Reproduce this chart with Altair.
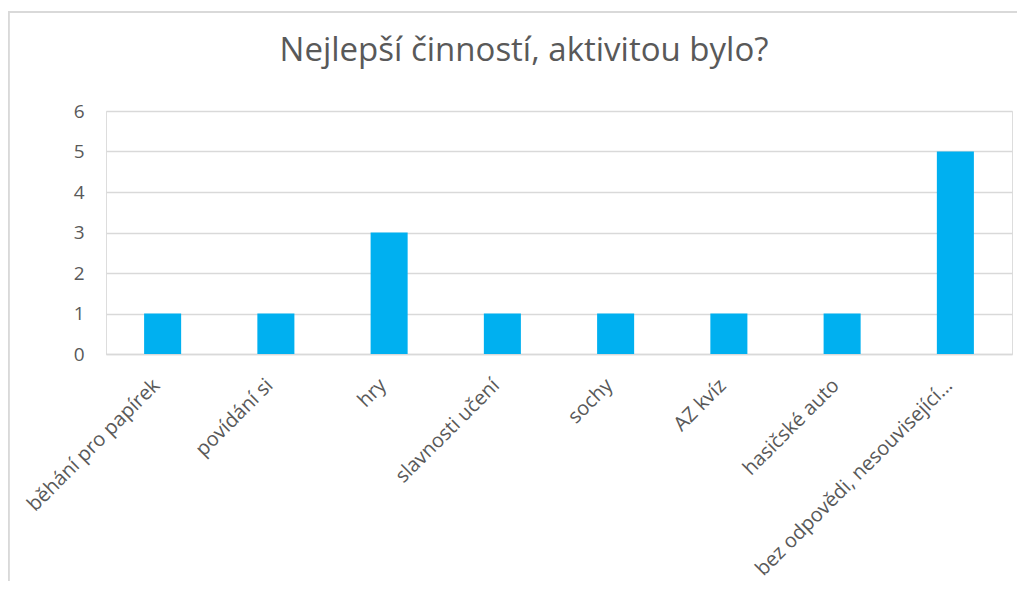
import altair as alt
import pandas as pd

categories = ["běhání pro papírek", "povídání si", "hry", "slavnosti učení",
              "sochy", "AZ kvíz", "hasičské auto", "bez odpovědi, nesouvisející…"]
values = [1, 1, 3, 1, 1, 1, 1, 5]
title_text = "Nejlepší činností, aktivitou bylo?"

df = pd.DataFrame({"kategorie": categories, "pocet": values})

W, H = 906, 243
PAD_L, PAD_T, PAD_R, PAD_B = 98, 103, 5, 227
TEXT = "#595959"
GRID = "#D9D9D9"
FONT = "Open Sans"

bars = alt.Chart(df).mark_bar(color="#00B0F0").encode(
    x=alt.X("kategorie:N", sort=categories, title=None,
            scale=alt.Scale(paddingInner=0.673, paddingOuter=0.3365),
            axis=alt.Axis(labelAngle=-45, labelFont=FONT, labelFontSize=20,
                          labelColor=TEXT, ticks=False, domainColor=GRID,
                          domainWidth=1.5, labelPadding=28, labelOffset=-6,
                          labelAlign="right", labelBaseline="middle", labelLimit=400)),
    y=alt.Y("pocet:Q", title=None,
            scale=alt.Scale(domain=[0, 6], nice=False),
            axis=alt.Axis(values=[0, 1, 2, 3, 4, 5, 6], format="d", labelFont=FONT,
                          labelFontSize=19, labelColor=TEXT, ticks=False, domain=False,
                          gridColor=GRID, gridWidth=1.5, labelPadding=22)),
)

title = alt.Chart(pd.DataFrame({"t": [title_text]})).mark_text(
    font=FONT, fontSize=33, color=TEXT, align="center", baseline="alphabetic"
).encode(text="t:N", x=alt.value(524 - 106), y=alt.value(61 - 111))

frame_top = alt.Chart(df).mark_rule(color=GRID, strokeWidth=1.5).encode(
    x=alt.value(-PAD_L), x2=alt.value(W + PAD_R + 20), y=alt.value(-PAD_T + 4))
frame_left = alt.Chart(df).mark_rule(color=GRID, strokeWidth=1.5).encode(
    x=alt.value(-PAD_L + 0.5), y=alt.value(-PAD_T + 4), y2=alt.value(H + PAD_B + 20))

chart = alt.layer(frame_top, frame_left, title, bars).properties(
    width=W, height=H,
    autosize=alt.AutoSizeParams(type="none"),
    padding={"left": PAD_L, "top": PAD_T, "right": PAD_R, "bottom": PAD_B},
).configure_view(stroke=None).configure(background="white")

chart.save("out.html", embed_options={"renderer": "svg", "actions": False})
